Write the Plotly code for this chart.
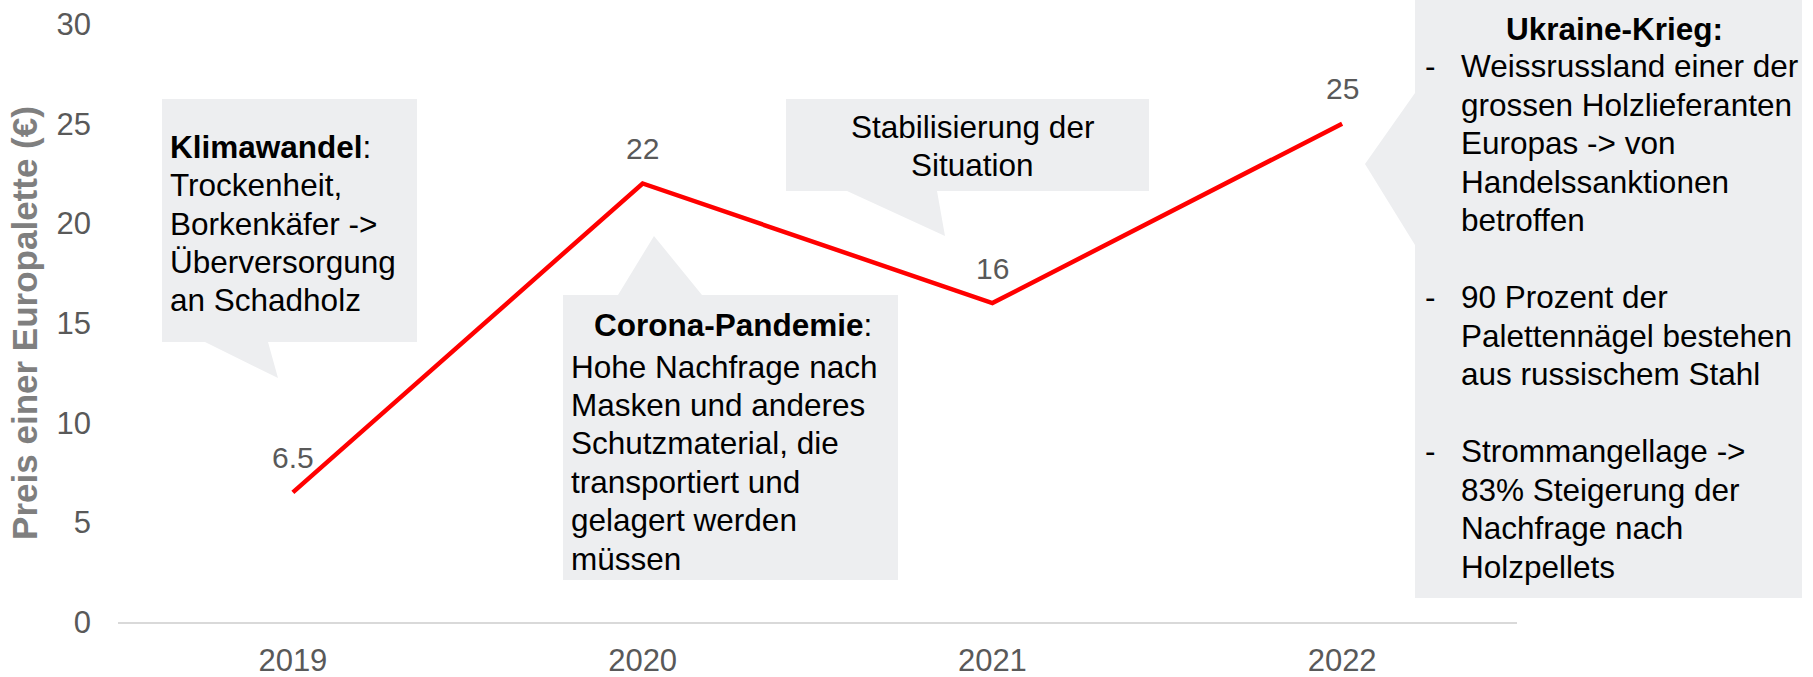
import plotly.graph_objects as go

# ---------------- data ----------------
years = ["2019", "2020", "2021", "2022"]
prices = [6.5, 22, 16, 25]
y_ticks = [0, 5, 10, 15, 20, 25, 30]
y_title = "Preis einer Europalette (€)"

klima_title = "Klimawandel"
klima_body = ["Trockenheit,", "Borkenkäfer ->", "Überversorgung", "an Schadholz"]
corona_title = "Corona-Pandemie"
corona_body = ["Hohe Nachfrage nach", "Masken und anderes", "Schutzmaterial, die",
               "transportiert und", "gelagert werden", "müssen"]
stab_lines = ["Stabilisierung der", "Situation"]
ukraine_title = "Ukraine-Krieg:"
ukraine_bullets = [
    ["Weissrussland einer der", "grossen Holzlieferanten", "Europas -> von",
     "Handelssanktionen", "betroffen"],
    ["90 Prozent der", "Palettennägel bestehen", "aus russischem Stahl"],
    ["Strommangellage ->", "83% Steigerung der", "Nachfrage nach", "Holzpellets"],
]

# ---------------- layout geometry (pixels) ----------------
W_FIG, H_FIG = 1813, 677
L, R, T, B = 118, 1517, 24, 622
PW, PH = R - L, B - T

def px(X):
    return (X - L) / PW

def py(Y):
    return (B - Y) / PH

def path(points):
    return "M " + " L ".join(f"{px(x):.5f},{py(y):.5f}" for x, y in points) + " Z"

FONT = "Liberation Sans, Arial, sans-serif"
BOX = "#edeef0"
TXT = "#000000"
FS = 31.5
LH = 38.4  # line pitch in the callouts

fig = go.Figure()
fig.add_trace(go.Scatter(
    x=years, y=prices, mode="lines",
    line=dict(color="#ff0000", width=4.5),
    hoverinfo="skip", showlegend=False,
))

shapes = [
    dict(type="path", xref="paper", yref="paper", layer="below",
         fillcolor=BOX, line=dict(width=0),
         path=path([(162, 99), (417, 99), (417, 342), (268, 342), (278, 378),
                    (205, 342), (162, 342)])),
    dict(type="path", xref="paper", yref="paper", layer="below",
         fillcolor=BOX, line=dict(width=0),
         path=path([(563, 295), (618, 295), (654, 236), (702, 295), (898, 295),
                    (898, 580), (563, 580)])),
    dict(type="path", xref="paper", yref="paper", layer="below",
         fillcolor=BOX, line=dict(width=0),
         path=path([(786, 99), (1149, 99), (1149, 191), (937, 191), (945, 236),
                    (847, 191), (786, 191)])),
    dict(type="path", xref="paper", yref="paper", layer="below",
         fillcolor=BOX, line=dict(width=0),
         path=path([(1415, 0), (1802, 0), (1802, 598), (1415, 598), (1415, 245),
                    (1365, 164), (1415, 93)])),
]

ann = []

# data labels (category index positions on the category axis)
for i, v in enumerate(prices):
    ann.append(dict(x=i, y=v, xref="x", yref="y", text=f"{v:g}", showarrow=False,
                    yanchor="middle", xanchor="center", yshift=35,
                    font=dict(family=FONT, size=30, color="#595959")))

def txt(X, Y, text, xanchor="left", size=FS):
    if xanchor == "left":
        X -= 3
    ann.append(dict(x=px(X), y=py(Y), xref="paper", yref="paper", text=text,
                    showarrow=False, xanchor=xanchor, yanchor="middle", align=xanchor,
                    font=dict(family=FONT, size=size, color=TXT)))

def block(X, Y0, lines, xanchor="left"):
    for k, line in enumerate(lines):
        if line:
            txt(X, Y0 + k * LH, line, xanchor=xanchor)

# Klimawandel
block(171, 146.7, [f"<b>{klima_title}</b>:"] + klima_body)

# Corona
txt(733, 325, f"<b>{corona_title}</b>:", xanchor="center")
block(572, 366.7, corona_body)

# Stabilisierung
block(972, 126.7, stab_lines, xanchor="center")

# Ukraine
txt(1614, 28.5, f"<b>{ukraine_title}</b>", xanchor="center")
row = 0
for lines in ukraine_bullets:
    y0 = 66.2 + row * 38.5
    txt(1430, y0, "-", xanchor="center")
    for k, line in enumerate(lines):
        txt(1462, y0 + k * 38.5, line)
    row += len(lines) + 1

fig.update_layout(
    width=W_FIG, height=H_FIG, autosize=False,
    margin=dict(l=L, r=W_FIG - R, t=T, b=H_FIG - B, pad=0, autoexpand=False),
    paper_bgcolor="white", plot_bgcolor="white",
    font=dict(family=FONT),
    shapes=shapes, annotations=ann,
    showlegend=False,
    xaxis=dict(type="category", range=[-0.5, 3.5], showgrid=False, zeroline=False,
               automargin=False,
               showline=True, linecolor="#d9d9d9", linewidth=2, ticks="",
               tickfont=dict(family=FONT, size=31, color="#595959"),
               ticklabelstandoff=10),
    yaxis=dict(range=[0, 30], tickvals=y_ticks, showgrid=False, zeroline=False,
               automargin=False,
               showline=False, ticks="",
               tickfont=dict(family=FONT, size=31, color="#595959"),
               ticklabelstandoff=26,
               title=dict(text=f"<b>{y_title}</b>", standoff=8,
                          font=dict(family=FONT, size=35, color="#7f7f7f"))),
)

fig.write_html("out.html", config={"displayModeBar": False},
               post_script="document.body.style.margin='0';")
